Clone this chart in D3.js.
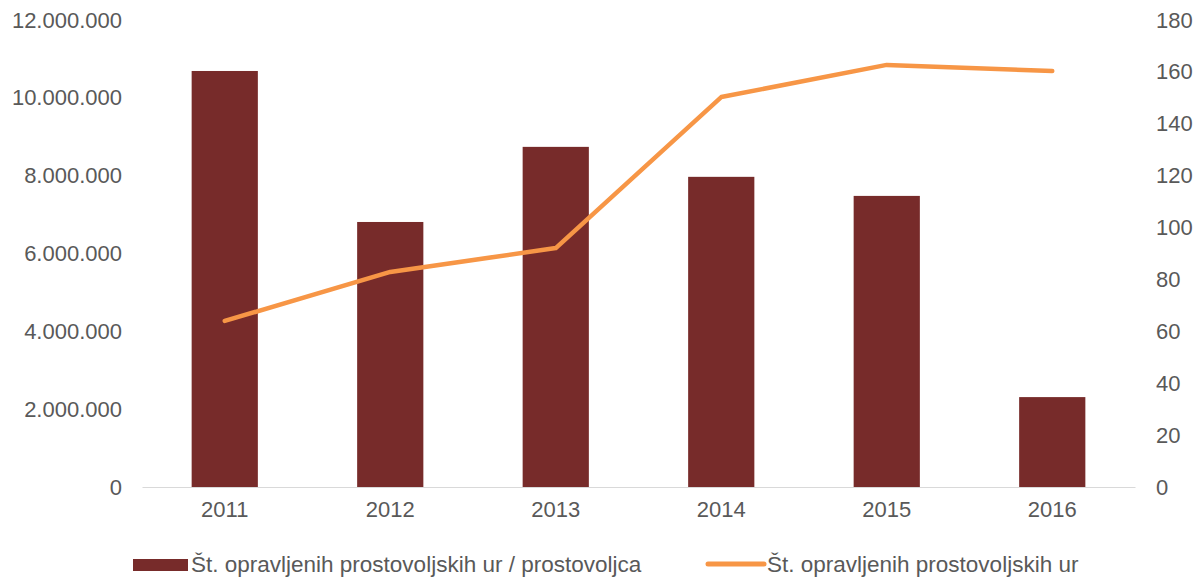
<!DOCTYPE html>
<html>
<head>
<meta charset="utf-8">
<script src="https://cdn.jsdelivr.net/npm/d3@7.9.0/dist/d3.min.js"></script>
<style>
  html, body { margin: 0; padding: 0; background: #fff; }
  svg text { font-family: "Liberation Sans", Arial, sans-serif; fill: #595959; }
</style>
</head>
<body>
<div id="chart"></div>
<script>
// podatki
const years = ['2011', '2012', '2013', '2014', '2015', '2016'];
const hoursPerVolunteer = [10690000, 6810000, 8740000, 7970000, 7480000, 2310000];
const totalHours = [64, 82.9, 92.1, 150.3, 162.7, 160.3];
const leftTicks = [0, 2000000, 4000000, 6000000, 8000000, 10000000, 12000000];
const rightTicks = [0, 20, 40, 60, 80, 100, 120, 140, 160, 180];
const barLabel = 'Št. opravljenih prostovoljskih ur / prostovoljca';
const lineLabel = 'Št. opravljenih prostovoljskih ur';

const width = 1200;
const height = 578;
const area = { left: 142, right: 1135, top: 20, bottom: 487 };

const svg = d3.select('#chart')
  .append('svg')
  .attr('width', width)
  .attr('height', height);

// skale
const x = d3.scaleBand()
  .domain(years)
  .range([area.left, area.right])
  .paddingInner(0.6)
  .paddingOuter(0.3);

const yLeft = d3.scaleLinear()
  .domain([0, 12000000])
  .range([area.bottom, area.top]);

const yRight = d3.scaleLinear()
  .domain([0, 180])
  .range([area.bottom, area.top]);

const fmt = v => d3.format(',')(v).replace(/,/g, '.');

// leva os
const leftAxis = svg.append('g')
  .attr('transform', `translate(${area.left - 20}, 0)`)
  .call(d3.axisLeft(yLeft).tickValues(leftTicks).tickFormat(fmt).tickSize(0).tickPadding(0));
leftAxis.select('.domain').remove();

// desna os
const rightAxis = svg.append('g')
  .attr('transform', `translate(${area.right + 21}, 0)`)
  .call(d3.axisRight(yRight).tickValues(rightTicks).tickSize(0).tickPadding(0));
rightAxis.select('.domain').remove();

// stolpci
svg.selectAll('rect.bar')
  .data(years)
  .join('rect')
  .attr('class', 'bar')
  .attr('x', d => x(d))
  .attr('width', x.bandwidth())
  .attr('y', (d, i) => yLeft(hoursPerVolunteer[i]))
  .attr('height', (d, i) => yLeft(0) - yLeft(hoursPerVolunteer[i]))
  .attr('fill', '#772B2A');

// x os
const xAxis = svg.append('g')
  .attr('transform', `translate(0, ${area.bottom})`)
  .call(d3.axisBottom(x).tickSize(0).tickPadding(14));
xAxis.select('.domain').attr('stroke', '#d9d9d9').attr('stroke-width', 1.2);

svg.selectAll('.tick text')
  .attr('font-size', 22)
  .style('font-family', '"Liberation Sans", Arial, sans-serif')
  .attr('fill', '#595959');

// črta
const line = d3.line()
  .x((d, i) => x(years[i]) + x.bandwidth() / 2)
  .y(d => yRight(d));

svg.append('path')
  .datum(totalHours)
  .attr('d', line)
  .attr('fill', 'none')
  .attr('stroke', '#F79646')
  .attr('stroke-width', 4.5)
  .attr('stroke-linecap', 'round')
  .attr('stroke-linejoin', 'round');

// legenda
const legend = svg.append('g');
legend.append('rect')
  .attr('x', 133).attr('y', 559)
  .attr('width', 55).attr('height', 12)
  .attr('fill', '#772B2A');
legend.append('text')
  .attr('x', 191).attr('y', 572)
  .attr('font-size', 22.5)
  .text(barLabel);
legend.append('line')
  .attr('x1', 708).attr('x2', 764)
  .attr('y1', 564).attr('y2', 564)
  .attr('stroke', '#F79646')
  .attr('stroke-width', 5)
  .attr('stroke-linecap', 'round');
legend.append('text')
  .attr('x', 767).attr('y', 572)
  .attr('font-size', 22.5)
  .text(lineLabel);
</script>
</body>
</html>
